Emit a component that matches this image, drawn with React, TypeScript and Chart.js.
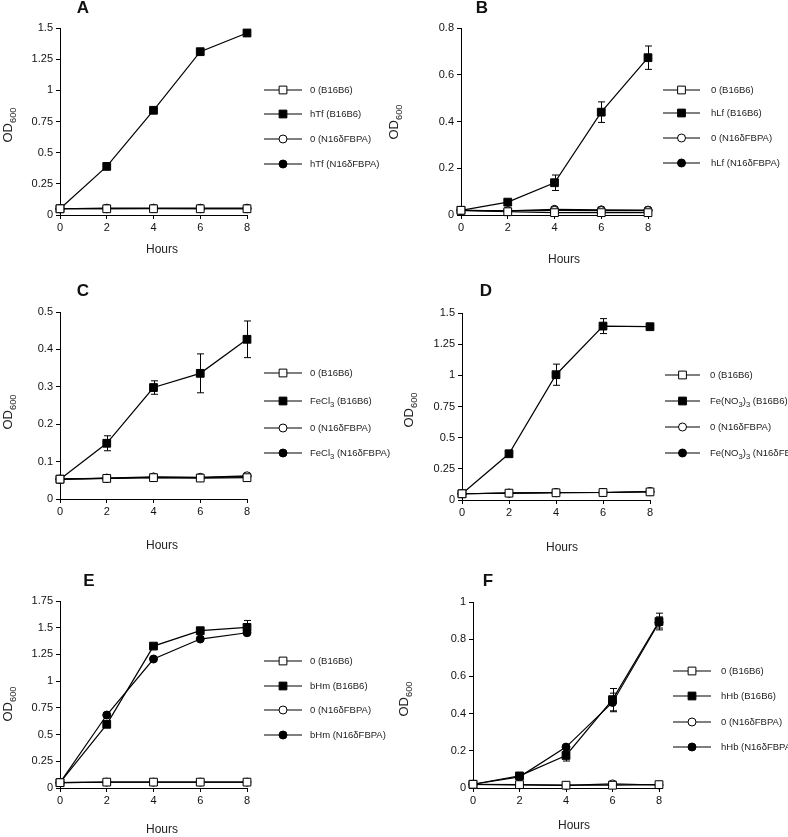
import React, { useEffect, useRef } from "react";
import { Chart, registerables } from "chart.js";

Chart.register(...registerables);

// ---------------- DATA ----------------
const hours = [0, 2, 4, 6, 8];

// Panel A: hTf
const aCtrlB16 = [0.05, 0.05, 0.05, 0.05, 0.05];
const aTrtB16 = [0.05, 0.39, 0.84, 1.31, 1.46];
const aCtrlN16 = [0.05, 0.05, 0.052, 0.05, 0.05];
const aTrtN16 = [0.05, 0.055, 0.055, 0.055, 0.055];
const aLabels = ["0 (B16B6)", "hTf (B16B6)", "0 (N16δFBPA)", "hTf (N16δFBPA)"];

// Panel B: hLf
const bCtrlB16 = [0.02, 0.014, 0.01, 0.01, 0.01];
const bTrtB16 = [0.02, 0.055, 0.138, 0.44, 0.673];
const bTrtB16Err = [0, 0, 0.033, 0.044, 0.05];
const bCtrlN16 = [0.02, 0.018, 0.02, 0.019, 0.019];
const bTrtN16 = [0.02, 0.018, 0.024, 0.022, 0.021];
const bLabels = ["0 (B16B6)", "hLf (B16B6)", "0 (N16δFBPA)", "hLf (N16δFBPA)"];

// Panel C: FeCl3
const cCtrlB16 = [0.053, 0.055, 0.057, 0.056, 0.057];
const cTrtB16 = [0.053, 0.149, 0.298, 0.336, 0.427];
const cTrtB16Err = [0, 0.02, 0.018, 0.052, 0.049];
const cCtrlN16 = [0.053, 0.056, 0.059, 0.058, 0.062];
const cTrtN16 = [0.053, 0.055, 0.058, 0.057, 0.06];
const cLabels = ["0 (B16B6)", "FeCl_{3} (B16B6)", "0 (N16δFBPA)", "FeCl_{3} (N16δFBPA)"];

// Panel D: Fe(NO3)3
const dCtrlB16 = [0.05, 0.055, 0.058, 0.06, 0.065];
const dTrtB16 = [0.05, 0.371, 1.005, 1.395, 1.39];
const dTrtB16Err = [0, 0.01, 0.085, 0.06, 0.01];
const dCtrlN16 = [0.05, 0.055, 0.058, 0.06, 0.068];
const dTrtN16 = [0.05, 0.055, 0.06, 0.06, 0.066];
const dLabels = ["0 (B16B6)", "Fe(NO_{3})_{3} (B16B6)", "0 (N16δFBPA)", "Fe(NO_{3})_{3} (N16δFBPA)"];

// Panel E: bHm
const eCtrlB16 = [0.05, 0.055, 0.055, 0.055, 0.055];
const eTrtB16 = [0.05, 0.596, 1.328, 1.472, 1.503];
const eTrtB16Err = [0, 0, 0, 0, 0.065];
const eCtrlN16 = [0.05, 0.055, 0.055, 0.055, 0.055];
const eTrtN16 = [0.05, 0.683, 1.207, 1.394, 1.453];
const eLabels = ["0 (B16B6)", "bHm (B16B6)", "0 (N16δFBPA)", "bHm (N16δFBPA)"];

// Panel F: hHb
const fCtrlB16 = [0.02, 0.018, 0.015, 0.015, 0.018];
const fTrtB16 = [0.02, 0.065, 0.175, 0.475, 0.895];
const fTrtB16Err = [0, 0.01, 0.03, 0.06, 0.045];
const fCtrlN16 = [0.02, 0.016, 0.014, 0.022, 0.016];
const fTrtN16 = [0.02, 0.06, 0.22, 0.46, 0.89];
const fTrtN16Err = [0, 0, 0, 0.05, 0.03];
const fLabels = ["0 (B16B6)", "hHb (B16B6)", "0 (N16δFBPA)", "hHb (N16δFBPA)"];

const yAxisTitle = "OD_{600}";
const xAxisTitle = "Hours";

// ---------------- LAYOUT / STYLE ----------------
const W = 788;
const H = 837;
const FONT = '"Liberation Sans", Arial, Helvetica, sans-serif';

const seriesStyles = [
  { pointStyle: "rect", fill: "#fff", radius: 5.5 },
  { pointStyle: "rect", fill: "#000", radius: 5.5 },
  { pointStyle: "circle", fill: "#fff", radius: 4 },
  { pointStyle: "circle", fill: "#000", radius: 4 },
];

type PanelCfg = {
  letter: string;
  letterPos: [number, number];
  area: { l: number; r: number; t: number; b: number };
  yMax: number;
  yStep: number;
  yTitle: [number, number];
  hoursPos: [number, number];
  legend: { x1: number; x2: number; tx: number; rows: number[] };
  series: number[][];
  errors: (number[] | null)[];
  labels: string[];
};

const panels: PanelCfg[] = [
  {
    letter: "A", letterPos: [83, 8], area: { l: 60, r: 247, t: 28, b: 215 },
    yMax: 1.5, yStep: 0.25, yTitle: [12, 125], hoursPos: [162, 250],
    legend: { x1: 264, x2: 302, tx: 310, rows: [90, 114, 139, 164] },
    series: [aCtrlB16, aTrtB16, aCtrlN16, aTrtN16], errors: [null, null, null, null], labels: aLabels,
  },
  {
    letter: "B", letterPos: [482, 8], area: { l: 461, r: 648, t: 28, b: 215 },
    yMax: 0.8, yStep: 0.2, yTitle: [398, 122], hoursPos: [564, 260],
    legend: { x1: 663, x2: 700, tx: 711, rows: [90, 113, 138, 163] },
    series: [bCtrlB16, bTrtB16, bCtrlN16, bTrtN16], errors: [null, bTrtB16Err, null, null], labels: bLabels,
  },
  {
    letter: "C", letterPos: [83, 291], area: { l: 60, r: 247, t: 312, b: 499 },
    yMax: 0.5, yStep: 0.1, yTitle: [12, 412], hoursPos: [162, 546],
    legend: { x1: 264, x2: 302, tx: 310, rows: [373, 401, 428, 453] },
    series: [cCtrlB16, cTrtB16, cCtrlN16, cTrtN16], errors: [null, cTrtB16Err, null, null], labels: cLabels,
  },
  {
    letter: "D", letterPos: [486, 291], area: { l: 462, r: 650, t: 313, b: 500 },
    yMax: 1.5, yStep: 0.25, yTitle: [413, 410], hoursPos: [562, 548],
    legend: { x1: 665, x2: 700, tx: 710, rows: [375, 401, 427, 453] },
    series: [dCtrlB16, dTrtB16, dCtrlN16, dTrtN16], errors: [null, dTrtB16Err, null, null], labels: dLabels,
  },
  {
    letter: "E", letterPos: [89, 581], area: { l: 60, r: 247, t: 601, b: 788 },
    yMax: 1.75, yStep: 0.25, yTitle: [12, 704], hoursPos: [162, 830],
    legend: { x1: 264, x2: 302, tx: 310, rows: [661, 686, 710, 735] },
    series: [eCtrlB16, eTrtB16, eCtrlN16, eTrtN16], errors: [null, eTrtB16Err, null, null], labels: eLabels,
  },
  {
    letter: "F", letterPos: [488, 581], area: { l: 473, r: 659, t: 602, b: 788 },
    yMax: 1, yStep: 0.2, yTitle: [408, 699], hoursPos: [574, 826],
    legend: { x1: 673, x2: 711, tx: 721, rows: [671, 696, 722, 747] },
    series: [fCtrlB16, fTrtB16, fCtrlN16, fTrtN16], errors: [null, fTrtB16Err, null, fTrtN16Err], labels: fLabels,
  },
];

const Y_AXIS_W = 40;
const X_AXIS_H = 25;

// ---------------- helpers ----------------
function parseRich(text: string) {
  const out: { t: string; sub: boolean }[] = [];
  const re = /_\{([^}]*)\}/g;
  let last = 0;
  let m: RegExpExecArray | null;
  while ((m = re.exec(text))) {
    if (m.index > last) out.push({ t: text.slice(last, m.index), sub: false });
    out.push({ t: m[1], sub: true });
    last = re.lastIndex;
  }
  if (last < text.length) out.push({ t: text.slice(last), sub: false });
  return out;
}

function drawRich(ctx: CanvasRenderingContext2D, text: string, x: number, y: number, size: number, align: "left" | "center", subScale = 0.72) {
  const segs = parseRich(text);
  const subSize = size * subScale;
  let total = 0;
  const widths = segs.map((s) => {
    ctx.font = `${s.sub ? subSize : size}px ${FONT}`;
    const w = ctx.measureText(s.t).width;
    total += w;
    return w;
  });
  let cx = align === "center" ? x - total / 2 : x;
  ctx.textAlign = "left";
  ctx.textBaseline = "alphabetic";
  segs.forEach((s, i) => {
    ctx.font = `${s.sub ? subSize : size}px ${FONT}`;
    ctx.fillText(s.t, cx, y + (s.sub ? size * 0.3 : 0));
    cx += widths[i];
  });
}

function drawMarker(ctx: CanvasRenderingContext2D, st: typeof seriesStyles[number], x: number, y: number) {
  ctx.beginPath();
  if (st.pointStyle === "rect") {
    const s = Math.SQRT1_2 * st.radius;
    ctx.rect(x - s, y - s, 2 * s, 2 * s);
  } else {
    ctx.arc(x, y, st.radius, 0, Math.PI * 2);
  }
  ctx.fillStyle = st.fill;
  ctx.fill();
  ctx.lineWidth = 1;
  ctx.strokeStyle = "#000";
  ctx.stroke();
}

function buildConfig(p: PanelCfg): any {
  const datasets = p.series.map((vals, i) => {
    const st = seriesStyles[i];
    return {
      label: p.labels[i],
      data: hours.map((h, k) => ({ x: h, y: vals[k] })),
      errorBars: p.errors[i],
      borderColor: "#000",
      borderWidth: 1.2,
      pointStyle: st.pointStyle,
      pointRadius: st.radius,
      pointBackgroundColor: st.fill,
      pointBorderColor: "#000",
      pointBorderWidth: 1,
      fill: false,
      tension: 0,
      clip: false,
    };
  });

  const decor = {
    id: "decor" + p.letter,
    afterDatasetsDraw(chart: any) {
      const ctx: CanvasRenderingContext2D = chart.ctx;
      const xs = chart.scales.x;
      const ys = chart.scales.y;
      ctx.save();
      ctx.strokeStyle = "#000";
      ctx.lineWidth = 1;
      chart.data.datasets.forEach((ds: any) => {
        if (!ds.errorBars) return;
        ds.data.forEach((pt: any, k: number) => {
          const e = ds.errorBars[k];
          if (!e) return;
          const px = Math.round(xs.getPixelForValue(pt.x)) + 0.5;
          const top = ys.getPixelForValue(pt.y + e);
          const bot = ys.getPixelForValue(pt.y - e);
          ctx.beginPath();
          ctx.moveTo(px, top);
          ctx.lineTo(px, bot);
          ctx.moveTo(px - 3.5, top);
          ctx.lineTo(px + 3.5, top);
          ctx.moveTo(px - 3.5, bot);
          ctx.lineTo(px + 3.5, bot);
          ctx.stroke();
        });
      });
      ctx.restore();
    },
    afterDraw(chart: any) {
      const ctx: CanvasRenderingContext2D = chart.ctx;
      ctx.save();
      ctx.fillStyle = "#111";
      // panel letter
      ctx.font = `bold 17px ${FONT}`;
      ctx.textAlign = "center";
      ctx.textBaseline = "middle";
      ctx.fillText(p.letter, p.letterPos[0], p.letterPos[1]);
      // x title
      ctx.font = `12px ${FONT}`;
      ctx.fillStyle = "#222";
      ctx.fillText(xAxisTitle, p.hoursPos[0], p.hoursPos[1]);
      // y title (rotated)
      ctx.save();
      ctx.translate(p.yTitle[0], p.yTitle[1]);
      ctx.rotate(-Math.PI / 2);
      drawRich(ctx, yAxisTitle, 0, 0, 13, "center", 0.72);
      ctx.restore();
      // legend
      const lg = p.legend;
      p.labels.forEach((lab, i) => {
        const y = lg.rows[i];
        ctx.beginPath();
        ctx.strokeStyle = "#000";
        ctx.lineWidth = 1.2;
        ctx.moveTo(lg.x1, y);
        ctx.lineTo(lg.x2, y);
        ctx.stroke();
        drawMarker(ctx, seriesStyles[i], (lg.x1 + lg.x2) / 2, y);
        ctx.fillStyle = "#222";
        drawRich(ctx, lab, lg.tx, y + 3.3, 9.5, "left", 0.8);
      });
      ctx.restore();
    },
  };

  const tickFont = { family: FONT, size: 11 };
  return {
    type: "line",
    data: { datasets },
    options: {
      animation: false,
      responsive: false,
      devicePixelRatio: 1,
      events: [],
      layout: {
        padding: {
          left: p.area.l - Y_AXIS_W,
          right: W - p.area.r,
          top: p.area.t,
          bottom: H - p.area.b - X_AXIS_H,
        },
      },
      plugins: { legend: { display: false }, tooltip: { enabled: false }, title: { display: false } },
      scales: {
        x: {
          type: "linear",
          min: 0,
          max: 8,
          afterFit(scale: any) {
            scale.height = X_AXIS_H;
          },
          ticks: { stepSize: 2, color: "#111", font: tickFont, padding: 2, maxRotation: 0 },
          grid: { display: true, drawOnChartArea: false, drawTicks: true, tickLength: 4, color: "#000", lineWidth: 1 },
          border: { display: true, color: "#000", width: 1 },
        },
        y: {
          type: "linear",
          min: 0,
          max: p.yMax,
          afterFit(scale: any) {
            scale.width = Y_AXIS_W;
          },
          ticks: {
            stepSize: p.yStep,
            color: "#111",
            font: tickFont,
            padding: 3,
            callback: (v: any) => String(parseFloat(Number(v).toFixed(2))),
          },
          grid: { display: true, drawOnChartArea: false, drawTicks: true, tickLength: 4, color: "#000", lineWidth: 1 },
          border: { display: true, color: "#000", width: 1 },
        },
      },
    },
    plugins: [decor],
  };
}

function Panel({ cfg }: { cfg: PanelCfg }) {
  const ref = useRef<HTMLCanvasElement | null>(null);
  useEffect(() => {
    if (!ref.current) return;
    const chart = new Chart(ref.current, buildConfig(cfg));
    return () => chart.destroy();
  }, [cfg]);
  return (
    <canvas
      ref={ref}
      width={W}
      height={H}
      style={{ position: "absolute", left: 0, top: 0, width: W, height: H }}
    />
  );
}

export default function App() {
  return (
    <div style={{ position: "absolute", left: 0, top: 0, width: W, height: H, background: "#fff", overflow: "hidden" }}>
      {panels.map((p) => (
        <Panel key={p.letter} cfg={p} />
      ))}
    </div>
  );
}
